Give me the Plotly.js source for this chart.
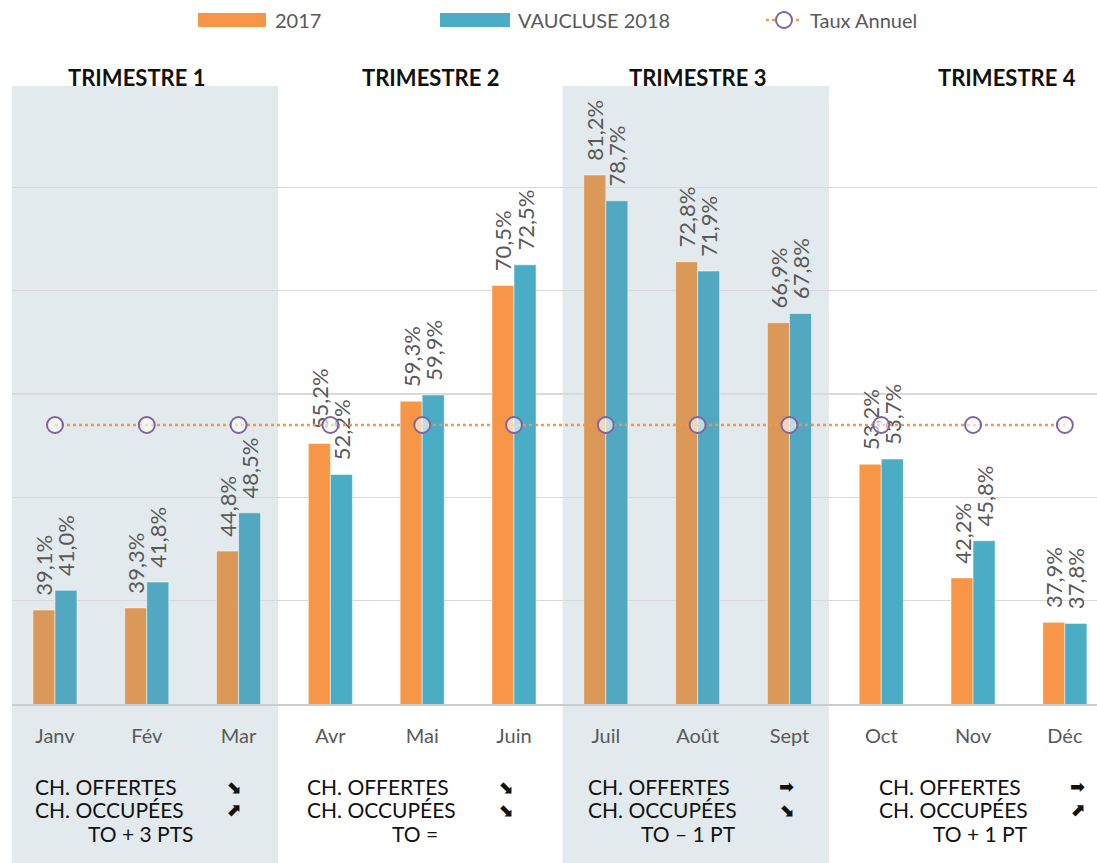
<!DOCTYPE html>
<html>
<head>
<meta charset="utf-8">
<script src="https://cdn.plot.ly/plotly-3.0.1.min.js"></script>
<style>
  body { margin: 0; background: #fff; }
  #plotArea { width: 1097px; height: 863px; }
</style>
</head>
<body>
<div id="plotArea"></div>
<script>
// taux d'occupation mensuel, Vaucluse
var months = ["Janv", "Fév", "Mar", "Avr", "Mai", "Juin", "Juil", "Août", "Sept", "Oct", "Nov", "Déc"];
var taux2017 = [39.1, 39.3, 44.8, 55.2, 59.3, 70.5, 81.2, 72.8, 66.9, 53.2, 42.2, 37.9];
var taux2018 = [41.0, 41.8, 48.5, 52.2, 59.9, 72.5, 78.7, 71.9, 67.8, 53.7, 45.8, 37.8];
var tauxAnnuel = [57.0, 57.0, 57.0, 57.0, 57.0, 57.0, 57.0, 57.0, 57.0, 57.0, 57.0, 57.0];

var trimestres = ["TRIMESTRE 1", "TRIMESTRE 2", "TRIMESTRE 3", "TRIMESTRE 4"];
var offertes = ["⬊", "⬊", "➡", "➡"];
var occupees = ["⬈", "⬊", "⬊", "⬈"];
var toNotes = ["TO + 3 PTS", "TO =", "TO – 1 PT", "TO + 1 PT"];

// page geometry
var W = 1097, H = 863, L = 12, R = 0, T = 84, B = 159;
var pw = W - L - R, ph = H - T - B;
function px(x) { return (x - L) / pw; }
function py(y) { return (H - B - y) / ph; }

var shaded = [true, false, true, false];
function isShaded(i) { return shaded[Math.floor(i / 3)]; }
var orange = months.map(function (m, i) { return isShaded(i) ? "#DB9859" : "#F79646"; });
var teal = months.map(function (m, i) { return isShaded(i) ? "#52A8C0" : "#4BACC6"; });

// "39,1%" style, with a small gap above the bar
function fmt(v) { return "\u00A0\u00A0" + v.toFixed(1).replace(".", ",") + "%"; }

var labelFont = {family: "Lato, 'Open Sans', sans-serif", size: 22, color: "#595959"};

var trace1 = {
    x: months,
    y: taux2017,
    name: "2017",
    type: "bar",
    marker: {color: orange, line: {color: "rgba(255,255,255,0.5)", width: 1}},
    text: taux2017.map(fmt),
    textposition: "outside",
    textangle: -90,
    textfont: labelFont,
    constraintext: "none",
    cliponaxis: false,
    hoverinfo: "none"
};
var trace2 = {
    x: months,
    y: taux2018,
    name: "VAUCLUSE 2018",
    type: "bar",
    marker: {color: teal, line: {color: "rgba(255,255,255,0.5)", width: 1}},
    text: taux2018.map(fmt),
    textposition: "outside",
    textangle: -90,
    textfont: labelFont,
    constraintext: "none",
    cliponaxis: false,
    hoverinfo: "none"
};
var trace3 = {
    x: months,
    y: tauxAnnuel,
    name: "Taux Annuel",
    type: "scatter",
    mode: "lines+markers",
    line: {color: "#F79646", width: 2.5, dash: "dot"},
    marker: {symbol: "circle", size: 16, color: "rgba(255,255,255,0.6)", line: {color: "#8064A2", width: 2}},
    cliponaxis: false,
    hoverinfo: "none"
};

var data = [trace1, trace2, trace3];

var shapes = [];
var annotations = [];
var blockFont = {family: "Lato, sans-serif", size: 21, color: "#111111"};
var arrowFont = {family: "DejaVu Sans, sans-serif", size: 18, color: "#111111", weight: 700};

// shaded quarters
for (var q = 0; q < 4; q++) {
    if (shaded[q]) {
        shapes.push({
            type: "rect", layer: "below",
            xref: "x", yref: "paper",
            x0: 3 * q - 0.47, x1: 3 * q + 2.43,
            y0: py(H), y1: py(86),
            fillcolor: "#E2EAED", line: {width: 0}
        });
    }
}

// custom legend
shapes.push({type: "rect", xref: "paper", yref: "paper", x0: px(198), x1: px(266), y0: py(27), y1: py(13), fillcolor: "#F79646", line: {width: 0}});
shapes.push({type: "rect", xref: "paper", yref: "paper", x0: px(440), x1: px(510), y0: py(27), y1: py(13), fillcolor: "#4BACC6", line: {width: 0}});
shapes.push({type: "line", xref: "paper", yref: "paper", x0: px(766), x1: px(802), y0: py(20), y1: py(20), line: {color: "#F79646", width: 2.5, dash: "dot"}});
shapes.push({type: "circle", xref: "paper", yref: "paper", x0: px(776), x1: px(792), y0: py(28), y1: py(12), fillcolor: "#FFFFFF", line: {color: "#8064A2", width: 2}});
var legendNames = [[trace1.name, 273], [trace2.name, 516], [trace3.name, 808]];
legendNames.forEach(function (n) {
    annotations.push({text: n[0], xref: "paper", yref: "paper", x: px(n[1]), y: py(20), xanchor: "left", yanchor: "middle",
        showarrow: false, font: {family: "Lato, sans-serif", size: 20, color: "#595959"}});
});

// quarter titles + notes under the axis
var titleX = [136, 430, 697, 1007];
var blockX = [33, 305, 586, 877];
var toX = [140, 415, 688, 980];
for (var q = 0; q < 4; q++) {
    annotations.push({text: trimestres[q], xref: "paper", yref: "paper", x: px(titleX[q]), y: py(77), xanchor: "center", yanchor: "middle",
        showarrow: false, font: {family: "Lato, sans-serif", size: 22, color: "#111111", weight: 700}});
    annotations.push({text: "CH. OFFERTES", xref: "paper", yref: "paper", x: px(blockX[q]), y: py(786), xanchor: "left", yanchor: "middle", showarrow: false, font: blockFont});
    annotations.push({text: "CH. OCCUPÉES", xref: "paper", yref: "paper", x: px(blockX[q]), y: py(809), xanchor: "left", yanchor: "middle", showarrow: false, font: blockFont});
    annotations.push({text: offertes[q] + "<br>" + occupees[q], xref: "paper", yref: "paper", x: px(blockX[q] + 200), y: py(798), xanchor: "center", yanchor: "middle", showarrow: false, font: arrowFont});
    annotations.push({text: toNotes[q], xref: "paper", yref: "paper", x: px(toX[q]), y: py(833), xanchor: "center", yanchor: "middle", showarrow: false, font: blockFont});
}

var layout = {
    width: W,
    height: H,
    margin: {l: L, r: R, t: T, b: B},
    paper_bgcolor: "#FFFFFF",
    plot_bgcolor: "rgba(0,0,0,0)",
    showlegend: false,
    barmode: "group",
    bargap: 0.52,
    bargroupgap: 0,
    xaxis: {
        type: "category",
        range: [-0.468, 11.35],
        showgrid: false,
        showline: true,
        linecolor: "#C9CDD0",
        linewidth: 1.5,
        ticks: "",
        ticklabelstandoff: 13,
        tickfont: {family: "Lato, sans-serif", size: 20, color: "#595959"},
        fixedrange: true
    },
    yaxis: {
        range: [30, 90],
        dtick: 10,
        showticklabels: false,
        gridcolor: "#D9D9D9",
        gridwidth: 1.5,
        zeroline: false,
        fixedrange: true
    },
    shapes: shapes,
    annotations: annotations
};

Plotly.newPlot("plotArea", data, layout, {displayModeBar: false, staticPlot: true});
</script>
</body>
</html>
